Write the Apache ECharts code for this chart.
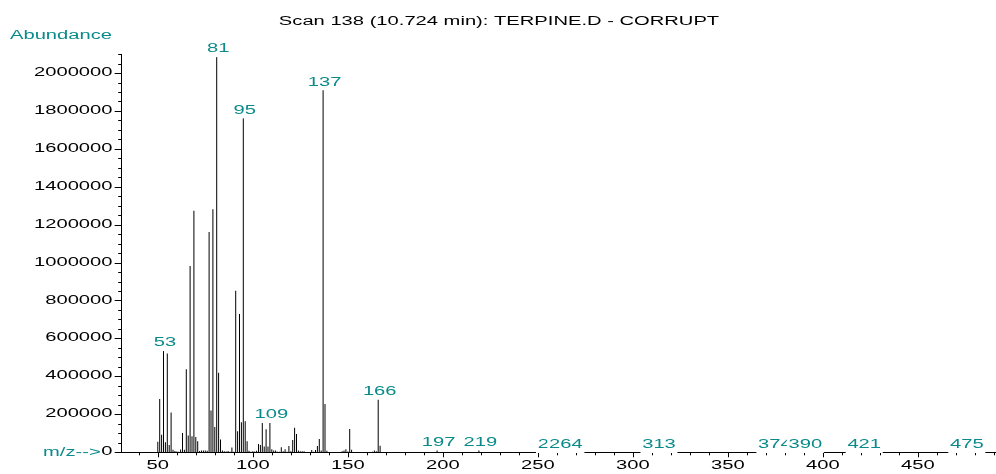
<!DOCTYPE html>
<html><head><meta charset="utf-8">
<script src="https://cdn.jsdelivr.net/npm/echarts@6/dist/echarts.min.js"></script>
<style>html,body{margin:0;padding:0;background:#fff}#c{width:996px;height:474px}</style>
</head><body><div id="c"></div>
<script>
// ---- data ----
const titleText = 'Scan 138 (10.724 min): TERPINE.D - CORRUPT';
const yAxisName = 'Abundance';
const xAxisName = 'm/z-->';
const mzValues = [50,51,52,53,54,55,56,57,58,59,60,61,62,63,64,65,66,67,68,69,70,71,72,73,74,75,76,77,78,79,80,81,82,83,84,85,86,87,88,89,90,91,92,93,94,95,96,97,98,99,100,101,102,103,104,105,106,107,108,109,110,111,112,113,114,115,116,117,118,119,120,121,122,123,124,125,126,127,128,131,132,133,134,135,136,137,138,139,147,148,149,150,151,152,163,164,165,166,167,197,219,258,264,313,374,390,421,475];
const abundance = [56000,281000,93000,540000,53000,522000,39000,210000,14000,7000,4000,3000,15000,102000,14000,438000,88000,983000,85000,1275000,81000,58000,7000,9000,10000,10000,8000,1163000,220000,1282000,134000,2091000,420000,67000,10000,6000,4000,7000,3000,25000,3000,853000,111000,730000,159000,1768000,164000,58000,8000,3000,6000,4000,8000,44000,39000,160000,30000,122000,30000,160000,16000,9000,9000,3000,3000,26000,6000,16000,3000,33000,6000,65000,129000,97000,9000,5000,5000,5000,2000,12000,3000,12000,33000,70000,9000,1916000,255000,8000,5000,9000,16000,4000,123000,14000,3000,9000,5000,283000,35000,15000,15000,2000,2000,2000,2000,2000,2000,2000];
const labeledMz = [53,81,95,109,137,166,197,219,258,264,313,374,390,421,475];
const xTickLabels = [50,100,150,200,250,300,350,400,450];
const xMinorTicks = [40,60,70,80,90,110,120,130,140,160,170,180,190,210,220,230,240,260,270,280,290,310,320,330,340,360,370,380,390,410,420,430,440,460,470,480,490];
const yTickLabels = [0,200000,400000,600000,800000,1000000,1200000,1400000,1600000,1800000,2000000];
const yMinorTicks = [];
for (let v = 50000; v <= 2100000; v += 50000) if (v % 200000 !== 0) yMinorTicks.push(v);

// ---- style ----
const TEAL = '#0a8a8a';
const SX = 1.68;
const FONT = '12px "Liberation Sans", Arial, sans-serif';

const abundanceOf = m => abundance[mzValues.indexOf(m)];
const labelData = labeledMz.map(m => [m, abundanceOf(m)]);

const chart = echarts.init(document.getElementById('c'), null, {renderer: 'canvas'});

function txt(x, y, text, fill, align, valign, extra) {
  return Object.assign({
    type: 'text', x: x, y: y, scaleX: SX,
    style: Object.assign({text: text, fill: fill, font: FONT,
      align: align, textAlign: align, verticalAlign: valign, textVerticalAlign: valign}, extra || {})
  }, {});
}

const option = {
  animation: false,
  backgroundColor: '#fff',
  grid: {left: 121.7, top: 54.35, width: 874, height: 397.95, containLabel: false, outerBoundsMode: 'none'},
  xAxis: [
    {type: 'value', min: 31, max: 491, position: 'bottom',
     axisLine: {show: true, onZero: false, lineStyle: {color: '#000', width: 1}},
     axisTick: {show: true, length: 5, customValues: xTickLabels, lineStyle: {color: '#000'}},
     axisLabel: {show: false}, splitLine: {show: false}},
    {type: 'value', min: 31, max: 491, position: 'bottom', offset: 0,
     axisLine: {show: false},
     axisTick: {show: true, length: 3, customValues: xMinorTicks, lineStyle: {color: '#000'}},
     axisLabel: {show: false}, splitLine: {show: false}}
  ],
  yAxis: [
    {type: 'value', min: 0, max: 2100000, position: 'left',
     axisLine: {show: true, onZero: false, lineStyle: {color: '#000', width: 1}},
     axisTick: {show: true, length: 7, customValues: yTickLabels, lineStyle: {color: '#000'}},
     axisLabel: {show: false}, splitLine: {show: false}},
    {type: 'value', min: 0, max: 2100000, position: 'left', offset: 0,
     axisLine: {show: false},
     axisTick: {show: true, length: 3.5, customValues: yMinorTicks, lineStyle: {color: '#000'}},
     axisLabel: {show: false}, splitLine: {show: false}}
  ],
  graphic: [
    txt(499, 21.5, titleText, '#000', 'center', 'middle'),
    txt(10, 36, yAxisName, TEAL, 'left', 'middle'),
    txt(43, 452.5, xAxisName, TEAL, 'left', 'middle')
  ],
  series: [
    {type: 'bar', xAxisIndex: 0, yAxisIndex: 0, silent: true, barWidth: 1,
     itemStyle: {color: '#000'}, data: mzValues.map((m, i) => [m, abundance[i]])},
    {type: 'custom', xAxisIndex: 0, yAxisIndex: 0, silent: true, z: 5, clip: false,
     data: labelData,
     renderItem: function (params, api) {
       const p = api.coord([api.value(0), api.value(1)]);
       return txt(p[0] + 1.5, p[1] + 1.1, String(labeledMz[params.dataIndex]), TEAL, 'center', 'bottom',
                  {backgroundColor: '#fff', padding: [0, 1, 2, 1]});
     }},
    {type: 'custom', xAxisIndex: 0, yAxisIndex: 0, silent: true, z: 4, clip: false,
     data: xTickLabels.map(v => [v, 0]),
     renderItem: function (params, api) {
       const p = api.coord([api.value(0), 0]);
       return txt(p[0], p[1] + 7.5, String(xTickLabels[params.dataIndex]), '#000', 'center', 'top');
     }},
    {type: 'custom', xAxisIndex: 0, yAxisIndex: 0, silent: true, z: 4, clip: false,
     data: yTickLabels.map(v => [31, v]),
     renderItem: function (params, api) {
       const p = api.coord([31, api.value(1)]);
       return txt(p[0] - 9.2, p[1] - 0.5, String(yTickLabels[params.dataIndex]), '#000', 'right', 'middle');
     }}
  ]
};
chart.setOption(option);
</script>
</body></html>
